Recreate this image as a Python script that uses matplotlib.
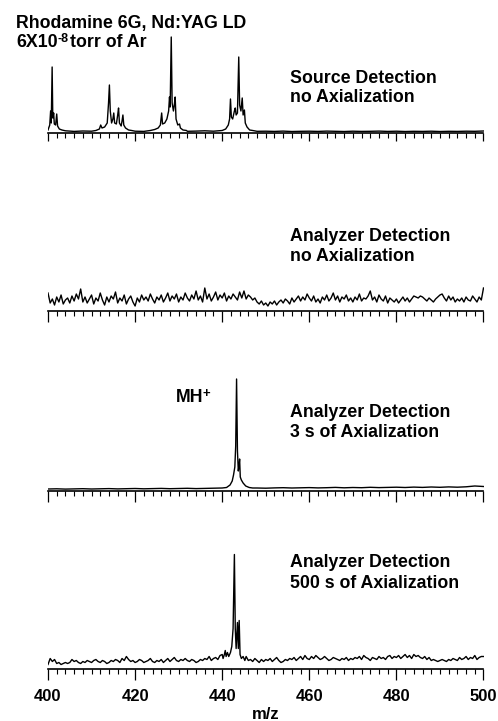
import numpy as np
import matplotlib
matplotlib.use('Agg')
import matplotlib.pyplot as plt
from matplotlib.ticker import MultipleLocator, NullFormatter

plt.rcParams['font.family'] = ['Liberation Sans', 'DejaVu Sans']
plt.rcParams['font.weight'] = 'bold'

W, H = 498, 721

# ---------------- data ----------------
mz_fine = np.arange(400, 500.01, 0.5)     # sampling grid for noisy traces
mz_coarse = np.arange(400, 500.01, 2.0)   # sampling grid for flat baselines

# Panel 1: Source detection, no axialization
src_base = [2.0, 1.8, 2.2, 1.6, 2.0, 1.8, 2.1, 1.7, 2.0, 2.2,
            1.8, 1.6, 1.9, 2.1, 2.4, 2.0, 1.7, 1.9, 2.2, 1.8,
            2.3, 1.9, 2.1, 2.0, 1.7, 1.8, 1.6, 1.9, 1.5, 1.7,
            1.8, 1.6, 1.9, 1.7, 1.5, 1.8, 1.6, 1.7, 1.9, 1.6,
            1.8, 1.5, 1.7, 1.6, 1.8, 1.5, 1.7, 1.6, 1.8, 1.7,
            2.0]
src_mz_a = [400.0, 400.4, 400.6, 400.75, 400.95, 401.1, 401.3, 401.45, 401.75, 402.0, 402.2, 402.6, 403.2]
src_in_a = [3, 8, 22, 10, 66, 15, 20, 9, 8, 19, 7, 4, 3]
src_mz_b = [411.0, 411.8, 412.1, 412.4, 413.0, 413.6, 413.9, 414.1, 414.3, 414.6, 414.9, 415.1,
            415.3, 415.7, 416.0, 416.2, 416.4, 416.8, 417.0, 417.2, 417.4, 417.8, 418.5, 419.2]
src_in_b = [2.5, 4, 8, 5, 6, 10, 30, 48, 22, 10, 14, 20, 10, 9, 18, 25, 10, 7, 12, 18, 8, 5, 3, 2.5]
src_mz_c = [423.5, 424.5, 425.3, 425.8, 426.1, 426.3, 426.8, 427.3, 427.7, 427.9, 428.05, 428.3,
            428.5, 428.8, 429.0, 429.2, 429.4, 429.8, 430.2, 430.4, 431.0, 431.8]
src_in_c = [2.5, 3.5, 5, 8, 20, 9, 10, 14, 22, 36, 26, 96, 30, 22, 28, 36, 14, 8, 9, 5, 3, 2.5]
src_mz_d = [440.0, 440.8, 441.4, 441.7, 441.9, 442.1, 442.4, 442.8, 443.0, 443.2, 443.5, 443.8,
            444.0, 444.3, 444.6, 444.8, 445.1, 445.3, 445.7, 446.3, 447.0]
src_in_d = [2.5, 4, 8, 14, 34, 16, 14, 22, 25, 18, 20, 76, 28, 22, 35, 18, 23, 10, 6, 3, 2.5]

# Panel 2: Analyzer detection, no axialization (noise only)
ana0_noise = [18, 8, 12, 6, 14, 9, 16, 7, 11, 13,
              8, 15, 10, 17, 12, 22, 9, 14, 8, 12,
              16, 7, 13, 10, 18, 11, 6, 14, 9, 15,
              12, 19, 8, 13, 10, 16, 7, 12, 15, 9,
              5, 13, 9, 16, 11, 14, 10, 17, 12, 8,
              14, 11, 16, 9, 13, 18, 10, 15, 12, 17,
              9, 14, 11, 18, 13, 10, 16, 12, 20, 11,
              15, 9, 23, 12, 17, 10, 14, 19, 11, 16,
              13, 18, 10, 15, 12, 17, 14, 11, 19, 13,
              20, 12, 16, 14, 11, 13, 9, 7, 10, 6,
              8, 5, 9, 7, 10, 6, 9, 11, 8, 12,
              10, 7, 13, 9, 12, 15, 10, 14, 11, 17,
              13, 10, 15, 9, 12, 8, 14, 11, 16, 10,
              13, 18, 11, 15, 9, 14, 12, 16, 10, 13,
              9, 14, 11, 17, 10, 13, 12, 15, 20, 11,
              14, 9, 16, 12, 10, 15, 8, 13, 11, 9,
              12, 8, 11, 14, 10, 13, 9, 12, 15, 14,
              13, 15, 14, 12, 10, 13, 11, 9, 12, 14,
              16, 17, 13, 10, 15, 11, 14, 9, 12, 10,
              13, 9, 14, 11, 10, 15, 12, 9, 14, 11,
              23]

# Panel 3: Analyzer detection, 3 s of axialization
ana3_base = [2.0, 2.2, 1.9, 2.1, 2.3, 2.0, 2.2, 2.4, 2.1, 2.3,
             2.5, 2.2, 2.4, 2.6, 2.3, 2.5, 2.7, 2.4, 2.6, 2.8,
             3.0, 3.2, 3.1, 2.9, 3.0, 2.8, 3.1, 3.3, 3.0, 3.2,
             3.4, 3.1, 3.3, 3.6, 3.2, 3.5, 3.3, 3.7, 3.4, 3.6,
             3.8, 3.5, 3.9, 3.6, 4.0, 3.7, 4.1, 3.8, 4.2, 5.0,
             4.5]
ana3_mz_pk = [441.0, 441.8, 442.3, 442.6, 442.9, 443.1, 443.3, 443.5, 443.7, 443.85, 444.0,
              444.15, 444.4, 444.8, 445.4, 446.2, 447.0]
ana3_in_pk = [3.5, 6, 10, 16, 24, 45, 112, 40, 20, 25, 32, 14, 11, 8, 5, 3.5, 3]

# Panel 4: Analyzer detection, 500 s of axialization
ana500_noise = [4, 10, 7, 9, 5, 6, 4, 5, 6, 5,
                6, 9, 7, 8, 6, 5, 7, 6, 8, 7,
                6, 8, 9, 7, 6, 8, 7, 5, 6, 8,
                7, 9, 8, 6, 10, 8, 12, 9, 7, 8,
                6, 7, 9, 8, 6, 7, 8, 10, 7, 6,
                8, 7, 9, 6, 8, 10, 7, 9, 11, 8,
                7, 9, 8, 10, 8, 7, 9, 8, 6, 7,
                9, 8, 10, 9, 12, 8, 10, 11, 9, 13,
                14, 12, 16, 12, 16, 18, 40, 20, 46, 14,
                10, 12, 8, 9, 7, 10, 8, 6, 9, 7,
                9, 8, 10, 7, 9, 11, 8, 6, 7, 9,
                8, 10, 9, 11, 8, 10, 12, 9, 13, 10,
                9, 12, 10, 13, 11, 9, 10, 12, 10, 8,
                9, 11, 10, 9, 8, 10, 9, 11, 8, 10,
                9, 11, 10, 12, 9, 13, 11, 10, 8, 11,
                10, 9, 12, 10, 11, 9, 12, 13, 10, 12,
                11, 13, 10, 12, 14, 11, 13, 10, 14, 12,
                13, 11, 10, 12, 9, 11, 8, 9, 8, 7,
                8, 9, 8, 7, 9, 8, 10, 9, 8, 11,
                9, 10, 12, 9, 11, 10, 13, 9, 11, 12,
                12]
ana500_mz_pk = [440.2, 440.5, 440.7, 440.9, 441.2, 441.5, 441.9, 442.2, 442.5, 442.8, 443.0,
                443.2, 443.5, 443.7, 443.9, 444.1, 444.4, 444.8, 445.2]
ana500_in_pk = [10, 14, 18, 12, 16, 12, 16, 22, 40, 114, 40, 20, 46, 20, 48, 14, 10, 12, 8]

tick_major = 20
tick_minor = 2

panel_labels = [("Source Detection", "no Axialization"),
                ("Analyzer Detection", "no Axialization"),
                ("Analyzer Detection", "3 s of Axialization"),
                ("Analyzer Detection", "500 s of Axialization")]


def merge(grid_mz, grid_in, clusters):
    gm = np.asarray(grid_mz, float)
    gi = np.asarray(grid_in, float)
    keep = np.ones(len(gm), bool)
    ms, vs = [], []
    for cm, ci in clusters:
        cm = np.asarray(cm, float)
        keep &= ~((gm >= cm.min()) & (gm <= cm.max()))
        ms.append(cm)
        vs.append(np.asarray(ci, float))
    ms.append(gm[keep])
    vs.append(gi[keep])
    m = np.concatenate(ms)
    v = np.concatenate(vs)
    order = np.argsort(m, kind='stable')
    return m[order], v[order]


# ---------------- figure ----------------
fig = plt.figure(figsize=(W / 100, H / 100), dpi=100)

AX_LEFT, AX_RIGHT = 48.0, 483.5
PANEL_H = 125.0


def make_ax(axis_y, labels=False, major_len=8.0):
    ax = fig.add_axes([AX_LEFT / W, 1 - axis_y / H, (AX_RIGHT - AX_LEFT) / W, PANEL_H / H])
    ax.set_xlim(400, 500)
    ax.set_ylim(0, PANEL_H)
    for s in ('top', 'left', 'right'):
        ax.spines[s].set_visible(False)
    ax.spines['bottom'].set_linewidth(1.2)
    ax.set_yticks([])
    ax.patch.set_alpha(0)
    ax.xaxis.set_major_locator(MultipleLocator(tick_major))
    ax.xaxis.set_minor_locator(MultipleLocator(tick_minor))
    ax.tick_params(axis='x', which='major', length=major_len, width=0.9, direction='out',
                   labelsize=12, pad=7)
    ax.tick_params(axis='x', which='minor', length=3.6, width=0.8, direction='out')
    if not labels:
        ax.xaxis.set_major_formatter(NullFormatter())
    return ax


LW = 1.0

ax1 = make_ax(133, major_len=6.0)
m, v = merge(mz_coarse, src_base, [(src_mz_a, src_in_a), (src_mz_b, src_in_b),
                                    (src_mz_c, src_in_c), (src_mz_d, src_in_d)])
ax1.plot(m, v, color='black', lw=LW)

ax2 = make_ax(311)
ax2.plot(mz_fine, ana0_noise, color='black', lw=LW)

ax3 = make_ax(491)
m, v = merge(mz_coarse, ana3_base, [(ana3_mz_pk, ana3_in_pk)])
ax3.plot(m, v, color='black', lw=LW)

ax4 = make_ax(668.5, labels=True)
m, v = merge(mz_fine, ana500_noise, [(ana500_mz_pk, ana500_in_pk)])
ax4.plot(m, v, color='black', lw=LW)
for t in ax4.get_xticklabels():
    t.set_fontweight('bold')


# ---------------- text ----------------
FS = 12.8


def ftext(x, y, s, fs=FS, ha='left'):
    return fig.text(x / W, 1 - y / H, s, ha=ha, va='baseline', fontsize=fs,
                    fontweight='bold', color='black')


renderer = fig.canvas.get_renderer()

ftext(16, 28, "Rhodamine 6G, Nd:YAG LD")
t = ftext(16, 47, "6X10")
x_end = t.get_window_extent(renderer).x1
t2 = ftext(x_end - 0.5, 41.5, "-8", fs=9)
x_end2 = t2.get_window_extent(renderer).x1
ftext(x_end2 + 1.5, 47, "torr of Ar")

label_y = [(83, 102), (241, 261), (417, 437), (567, 588)]
for (l1, l2), (y1, y2) in zip(panel_labels, label_y):
    ftext(290, y1, l1)
    ftext(290, y2, l2)

t = ftext(176, 402, "MH")
x_end = t.get_window_extent(renderer).x1
ftext(x_end - 1.5, 397, "+", fs=9.5)

ftext((AX_LEFT + AX_RIGHT) / 2, 719, "m/z", fs=12, ha='center')

fig.savefig("out.png", dpi=100)
